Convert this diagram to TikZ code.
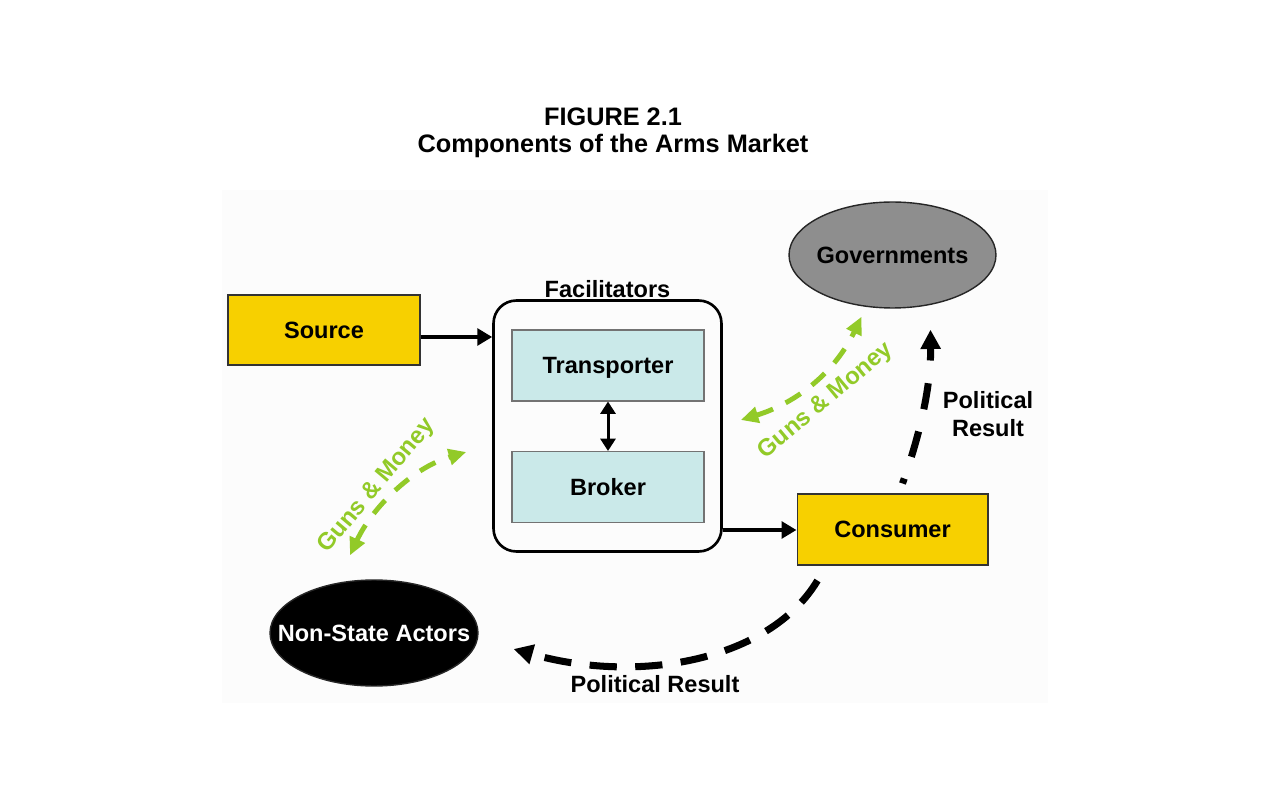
\documentclass[tikz,border=0pt]{standalone}
\usepackage{fontspec}
\setmainfont{Liberation Sans}
\usepackage{tikz}
\usepackage{xcolor}
\usetikzlibrary{arrows.meta, positioning, calc, shapes.geometric}
\definecolor{armsgold}{RGB}{247,208,0}
\definecolor{armscyan}{RGB}{202,233,233}
\definecolor{armsgray}{RGB}{142,142,142}
\definecolor{armsgreen}{RGB}{146,202,40}

\begin{document}
\begin{tikzpicture}[x=0.02cm,y=-0.02cm,
  % px-like grid: origin top left, y grows downwards
  every node/.style={font=\fontsize{13.4}{16}\selectfont\bfseries},
  market/.style={draw=black!80,fill=armsgold,line width=0.6pt,
    minimum width=3.84cm,minimum height=1.4cm,text depth=0pt},
  inner/.style={draw=black!55,fill=armscyan,line width=0.6pt,
    minimum width=3.84cm,minimum height=1.42cm,text depth=0pt},
  party/.style={ellipse,draw=black!85,line width=0.8pt,inner sep=0pt,
    minimum width=4.14cm,minimum height=2.12cm},
  arr/.style={-{Triangle[length=8.5pt,width=9.5pt]},line width=2.3pt},
  result/.style={-{Triangle[length=11pt,width=11pt]},line width=4pt,
    dash pattern=on 15pt off 13pt},
  money/.style={{Triangle[length=10pt,width=9pt]}-{Triangle[length=10pt,width=9pt]},
    armsgreen,line width=2.8pt,dash pattern=on 10pt off 8pt},
  gm/.style={text=armsgreen,font=\fontsize{13.6}{16}\selectfont\bfseries}]

  \useasboundingbox (0,0) rectangle (1268,800);
  \fill[black!1.2] (222,190) rectangle (1048,703);

  \node[align=center,font=\fontsize{14.4}{15.4}\selectfont\bfseries] (title) at (613,133)
    {FIGURE 2.1\\Components of the Arms Market};

  \node[market] (source) at (324,330) {Source};
  \node[draw,line width=1.5pt,rounded corners=13pt,
    minimum width=4.56cm,minimum height=5.02cm] (fac) at (607.5,426) {};
  \node[above=-2.5pt of fac.north,text depth=0pt] (faclabel) {Facilitators};
  \node[inner] (trans) at (608,365.5) {Transporter};
  \node[inner] (broker) at (608,487) {Broker};
  \node[market,minimum width=3.82cm,minimum height=1.42cm] (cons) at (892.5,529.5) {Consumer};
  \node[party,fill=armsgray,label={[text depth=0pt]center:Governments}] (gov) at (892.5,255) {};
  \node[party,fill=black,minimum width=4.16cm,
    label={[text=white,text depth=0pt]center:Non-State Actors}] (nsa) at (374,633) {};

  \draw[arr] (source.east |- 0,337) -- (fac.west |- 0,337);
  \draw[arr] (fac.east |- 0,530) -- (cons.west |- 0,530);
  \draw[{Triangle[length=7pt,width=8.5pt]}-{Triangle[length=7pt,width=8.5pt]},line width=1.7pt]
    (trans.south) -- (broker.north);

  % political results (dashed, black)
  \coordinate (upstart) at ($(cons.north)+(10,-10)$);
  \coordinate (upend) at ($(gov.south)+(38,21)$);
  \draw[result,dash phase=12pt] (upstart) .. controls (918,440) and (931,390) .. (upend);
  \node (upres) at (988,414) [align=center] {Political\\Result};

  \coordinate (downstart) at ($(cons.south)+(-75,15)$);
  \coordinate (downend) at ($(nsa.east)+(35,16)$);
  \draw[result,dash pattern=on 15.5pt off 10.5pt]
    (downstart) .. controls (770,660) and (640,685) .. (downend);
  \node (downres) at (655,684) {Political Result};

  % guns & money (dashed, green)
  \coordinate (gmleft) at ($(nsa.north)+(-24,-24)$);
  \coordinate (gmfac) at ($(fac.west)+(-26,26)$);
  \draw[money] (gmleft) .. controls (372,508) and (412,468) .. (gmfac);
  \node[gm,rotate=50] (gmlab1) at (377,486) {Guns \& Money};

  \coordinate (gmright) at ($(fac.east)+(18,-6)$);
  \coordinate (gmgov) at ($(gov.south)+(-31,8)$);
  \draw[money] (gmright) .. controls (790,405) and (832,378) .. (gmgov);
  \node[gm,rotate=40] (gmlab2) at (826,401) {Guns \& Money};

\end{tikzpicture}
\end{document}
